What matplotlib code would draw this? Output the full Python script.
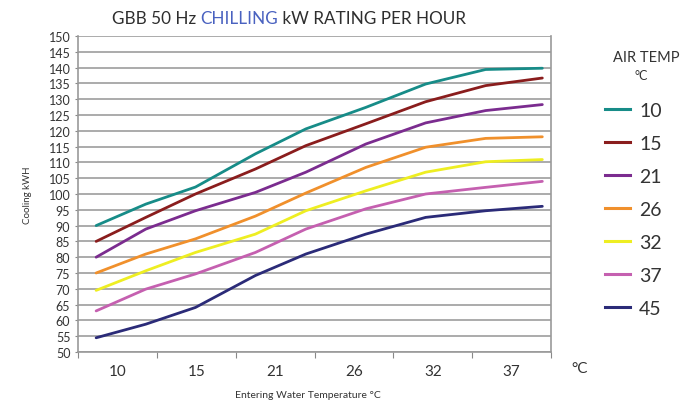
import matplotlib
matplotlib.use("Agg")
import matplotlib.pyplot as plt
from matplotlib.lines import Line2D

plt.rcParams['font.family'] = ['Lato', 'DejaVu Sans']

# category labels on the x axis (entering water temperature, deg C)
water_temps = ['10', '15', '21', '26', '32', '37']
# positions along the axis (in category-bin units) where the curves were read
x_pos = [0.23, 0.86, 1.49, 2.25, 2.89, 3.65, 4.41, 5.17, 5.89]

air_temps = ['10', '15', '21', '26', '32', '37', '45']
kw_10 = [90.0, 96.8, 102.2, 112.7, 120.6, 127.4, 134.8, 139.4, 139.8]
kw_15 = [85.0, 92.6, 100.0, 107.9, 115.3, 122.2, 129.2, 134.3, 136.7]
kw_21 = [80.0, 88.9, 94.7, 100.5, 106.9, 115.8, 122.5, 126.4, 128.3]
kw_26 = [75.0, 81.0, 85.8, 93.0, 100.3, 108.4, 114.8, 117.6, 118.1]
kw_32 = [69.5, 75.7, 81.5, 87.3, 94.7, 101.0, 106.9, 110.2, 110.9]
kw_37 = [63.0, 69.9, 74.7, 81.5, 88.9, 95.3, 100.0, 102.1, 104.0]
kw_45 = [54.5, 58.8, 64.1, 74.2, 81.0, 87.3, 92.6, 94.7, 96.1]

series = [kw_10, kw_15, kw_21, kw_26, kw_32, kw_37, kw_45]
colors = ['#178c88', '#8a1d1d', '#7b2c8f', '#f0902c', '#eeee22', '#c560b0', '#2b2b78']

fig = plt.figure(figsize=(6.81, 4.06), dpi=100)
ax = fig.add_axes([78 / 681, 53 / 406, 473 / 681, 316 / 406])

for vals, c in zip(series, colors):
    ax.plot(x_pos, vals, color=c, lw=2.0, solid_capstyle='round',
            solid_joinstyle='round', zorder=3)

ax.set_xlim(0, 6)
ax.set_ylim(50, 150)
ax.set_yticks(range(50, 151, 5))
ax.yaxis.grid(True, color='#ababab', lw=1.4)
ax.set_axisbelow(True)

ax.set_xticks(range(0, 7))
ax.set_xticklabels([])
ax.set_xticks([i + 0.5 for i in range(len(water_temps))], minor=True)
ax.set_xticklabels(water_temps, minor=True)
ax.tick_params(axis='x', which='major', length=4, color='#888888', direction='out')
ax.tick_params(axis='x', which='minor', length=0, pad=9, labelsize=11, labelcolor='#333333')
ax.tick_params(axis='y', length=2.5, color='#888888', pad=3, labelsize=9, labelcolor='#333333')

for side in ['left', 'bottom', 'right']:
    ax.spines[side].set_color('#999999')
    ax.spines[side].set_linewidth(1.2)
ax.spines['top'].set_visible(False)

fig.text(27 / 681, 1 - 195 / 406, 'Cooling kWH', rotation=90, ha='center', va='center',
         fontsize=7, color='#333333')
fig.text(308 / 681, 1 - 396 / 406, 'Entering Water Temperature °C', ha='center', va='center',
         fontsize=7.5, color='#333333')
fig.text(580 / 681, 1 - 369 / 406, '°C', ha='center', va='center', fontsize=11, color='#333333')

# title with the coloured word
fig.canvas.draw()
r = fig.canvas.get_renderer()
parts = [('GBB 50 Hz ', '#2e2e2e'), ('CHILLING', '#4a62c0'), (' kW RATING PER HOUR', '#2e2e2e')]
texts = []
total = 0
for s, c in parts:
    t = fig.text(0, 1 - 19 / 406, s, fontsize=12.3, color=c, va='center', ha='left')
    w = t.get_window_extent(r).width
    texts.append((t, w))
    total += w
x0 = 289 * fig.dpi / 100 - total / 2
for t, w in texts:
    t.set_x(x0 / fig.bbox.width)
    x0 += w

# legend
fig.text(613 / 681, 1 - 58 / 406, 'AIR TEMP', ha='left', va='center', fontsize=10.5, color='#333333')
fig.text(641 / 681, 1 - 76 / 406, '°C', ha='center', va='center', fontsize=9, color='#333333')
handles = [Line2D([0], [0], color=c, lw=2.2) for c in colors]
fig.legend(handles, air_temps, loc='upper left', bbox_to_anchor=(605 / 681, 1 - 103 / 406),
           frameon=False, fontsize=14, handlelength=1.3, handletextpad=0.45,
           labelspacing=0.82, borderaxespad=0, borderpad=0, labelcolor='#333333')

fig.savefig('out.png', dpi=100)
